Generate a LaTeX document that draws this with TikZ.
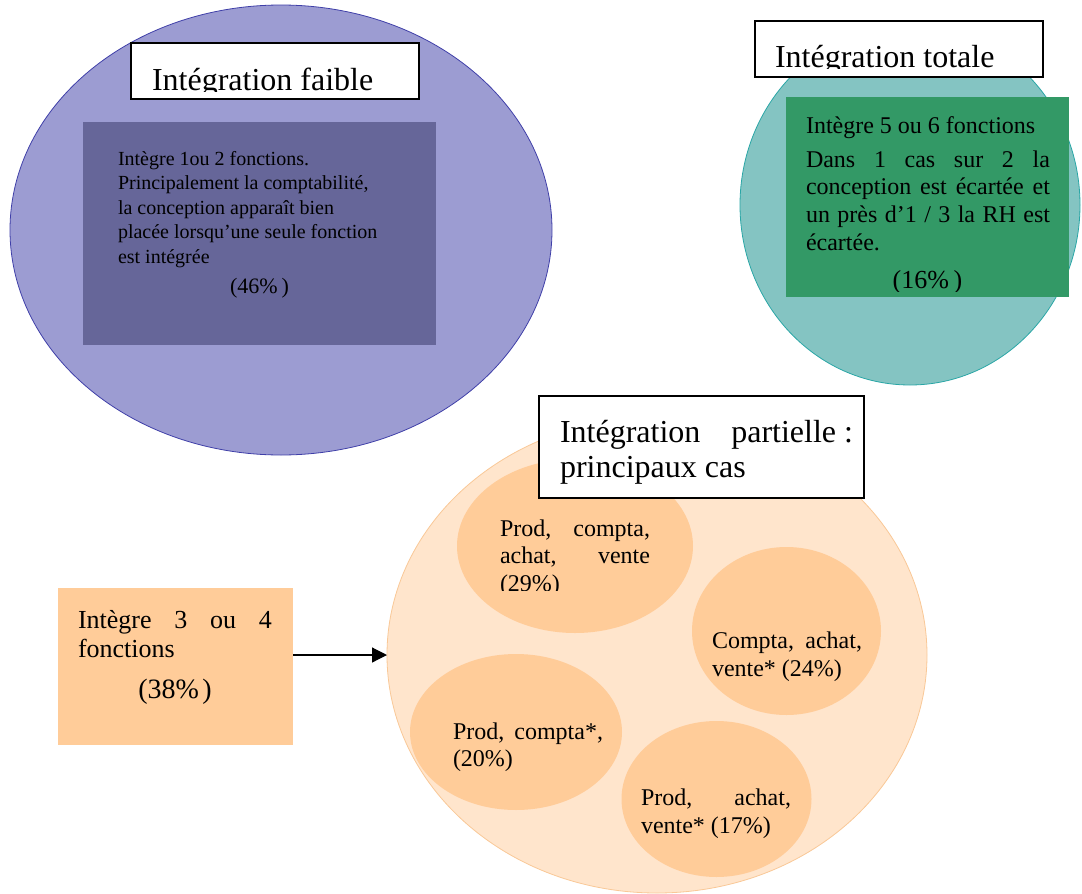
\documentclass[tikz,border=0pt]{standalone}
\usepackage{fontspec}
\setmainfont{Liberation Serif}
\usetikzlibrary{shapes.geometric,arrows.meta}
\definecolor{blueFill}{HTML}{9C9CD2}
\definecolor{blueLine}{HTML}{3F3FA8}
\definecolor{blueBox}{HTML}{666699}
\definecolor{tealFill}{HTML}{84C4C2}
\definecolor{tealLine}{HTML}{2AA6A6}
\definecolor{greenBox}{HTML}{339966}
\definecolor{peachFill}{HTML}{FFE5CC}
\definecolor{peachLine}{HTML}{F9C897}
\definecolor{orangeFill}{HTML}{FFCC99}
\newcommand{\fsz}[2]{\fontsize{#1}{#2}\selectfont}
\tikzset{
  oval/.style={ellipse, inner sep=0pt, outer sep=0pt},
  panel/.style={rectangle, inner sep=0pt, outer sep=0pt, draw=none},
  titlebox/.style={rectangle, inner sep=0pt, draw=black, line width=1.5pt, fill=white},
  txt/.style={inner sep=0pt, outer sep=0pt, anchor=base west, text=black},
  pct/.style={inner sep=0pt, outer sep=0pt, anchor=base, text=black},
  subcase/.style={oval, fill=orangeFill, draw=none},
  link/.style={line width=1.2pt, -{Triangle[length=15pt,width=15pt]}},
}
\begin{document}
\begin{tikzpicture}[x=1pt,y=-1pt]
\useasboundingbox (0,0) rectangle (1082,894);

% ---------- Intégration faible ----------
\node[oval, fill=blueFill, draw=blueLine, line width=0.8pt, minimum width=542pt, minimum height=450pt] (faible) at (281,230) {};
\node[panel, fill=blueBox, minimum width=353pt, minimum height=223pt] (faibleBox) at (259.5,233.5) {};
\node[titlebox, minimum width=288pt, minimum height=56pt] (faibleTitle) at (275,71) {};
\begin{scope}
  \clip (131,43) rectangle (419,91.5);
  \node[txt, font=\fsz{32}{35}] (faibleLbl) at (152,90) {Intégration faible};
\end{scope}
\node[txt, font=\fsz{20}{24.5}] (faibleTxt) at (118,165) {\begin{minipage}[t]{300pt}\raggedright
Intègre 1ou 2 fonctions.\\
Principalement la comptabilité,\\
la conception apparaît bien\\
placée lorsqu’une seule fonction\\
est intégrée\end{minipage}};
\node[pct, font=\fsz{22}{24}] (faiblePct) at (259.5,293) {(46\%\kern0.18em)};

% ---------- Intégration totale ----------
\node[oval, fill=tealFill, draw=tealLine, line width=0.8pt, minimum width=340pt, minimum height=360pt] (totale) at (910,205) {};
\node[panel, fill=greenBox, minimum width=283pt, minimum height=200pt] (totaleBox) at (927.5,197) {};
\node[titlebox, minimum width=288pt, minimum height=56pt] (totaleTitle) at (899,49) {};
\begin{scope}
  \clip (755,21) rectangle (1043,68.5);
  \node[txt, font=\fsz{32}{35}] (totaleLbl) at (775,67) {Intégration totale};
\end{scope}
\node[txt, font=\fsz{24}{27.7}] (totaleTxt) at (806,133) {\begin{minipage}[t]{244pt}\sloppy
Intègre 5 ou 6 fonctions\par\vspace{6.3pt}
Dans 1 cas sur 2 la\linebreak conception est écartée et\linebreak un près d’1 / 3 la RH est\linebreak écartée.\end{minipage}};
\begin{scope}
  \clip (786,97) rectangle (1069,291);
  \node[pct, font=\fsz{26}{28}] (totalePct) at (927.5,288) {(16\%\kern0.18em)};
\end{scope}

% ---------- Intégration partielle ----------
\node[oval, fill=peachFill, draw=peachLine, line width=0.8pt, minimum width=540pt, minimum height=476pt] (partielle) at (657,655) {};
\node[subcase, minimum width=236pt, minimum height=174pt] (casA) at (575,546) {};
\node[subcase, minimum width=189pt, minimum height=168pt] (casB) at (786.5,631) {};
\node[subcase, minimum width=212pt, minimum height=156pt] (casC) at (516,732) {};
\node[subcase, minimum width=190pt, minimum height=156pt] (casD) at (716.5,799) {};
\node[titlebox, minimum width=325pt, minimum height=102pt] (partielleTitle) at (701.5,447) {};
\node[txt, font=\fsz{32}{35}] (partielleLbl) at (560,442) {\begin{minipage}[t]{293pt}\sloppy
Intégration partielle\nobreak\hspace{8pt}:\linebreak principaux cas\end{minipage}};

\begin{scope}
  \clip (457,460) rectangle (693,590);
  \node[txt, font=\fsz{24}{27.5}] (casAtxt) at (500,536) {\begin{minipage}[t]{150pt}\sloppy
  Prod, compta,\linebreak achat, vente\linebreak (29\%)\end{minipage}};
\end{scope}
\node[txt, font=\fsz{24}{28}] (casBtxt) at (712,648) {\begin{minipage}[t]{150pt}\sloppy
Compta, achat,\linebreak vente* (24\%)\end{minipage}};
\node[txt, font=\fsz{24}{27.5}] (casCtxt) at (453,739) {\begin{minipage}[t]{150pt}\sloppy
Prod, compta*,\linebreak (20\%)\end{minipage}};
\node[txt, font=\fsz{24}{28}] (casDtxt) at (641,805) {\begin{minipage}[t]{150pt}\sloppy
Prod, achat,\linebreak vente* (17\%)\end{minipage}};

% ---------- Intègre 3 ou 4 fonctions ----------
\node[panel, fill=orangeFill, minimum width=235pt, minimum height=157pt] (orangeBox) at (175.5,666.5) {};
\node[txt, font=\fsz{26}{29.5}] (orangeTxt) at (78,628) {\begin{minipage}[t]{194pt}\sloppy
Intègre 3 ou 4\linebreak fonctions\end{minipage}};
\node[pct, font=\fsz{28}{30}] (orangePct) at (175,698) {(38\%\kern0.12em)};

\draw[link] (orangeBox.east |- partielle.west) -- (partielle.west);
\end{tikzpicture}
\end{document}
